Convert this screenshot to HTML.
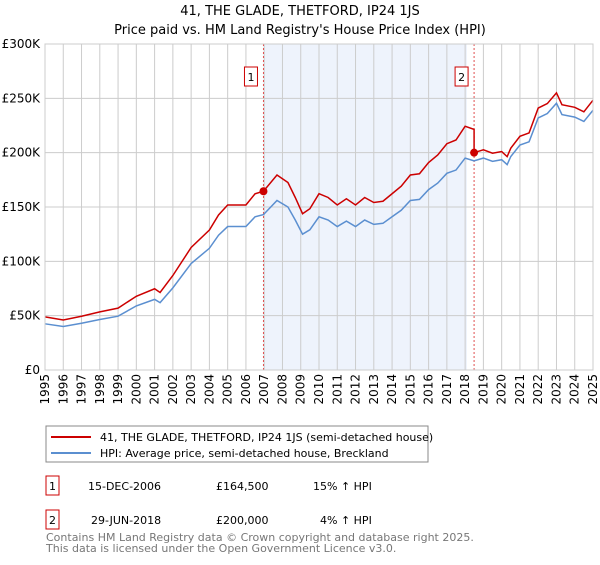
<!DOCTYPE html>
<html><head><meta charset="utf-8"><style>
body{margin:0;background:#fff;font-family:"Liberation Sans","DejaVu Sans",sans-serif;}
svg text{font-family:"DejaVu Sans","Liberation Sans",sans-serif;}
</style></head><body>
<svg width="600" height="560" viewBox="0 0 600 560">
<text x="300" y="15" text-anchor="middle" font-size="13">41, THE GLADE, THETFORD, IP24 1JS</text>
<text x="300" y="34" text-anchor="middle" font-size="13">Price paid vs. HM Land Registry's House Price Index (HPI)</text>
<g id="plot"></g>
<g>
<rect x="46" y="426" width="382" height="36" fill="#fff" stroke="#888"/>
<line x1="51" y1="437" x2="91" y2="437" stroke="#cc0000" stroke-width="2"/>
<text x="100" y="441" font-size="11">41, THE GLADE, THETFORD, IP24 1JS (semi-detached house)</text>
<line x1="51" y1="453" x2="91" y2="453" stroke="#5b8fd0" stroke-width="2"/>
<text x="100" y="457" font-size="11">HPI: Average price, semi-detached house, Breckland</text>
</g>
<g font-size="11">
<rect x="46" y="476" width="13" height="19" fill="#fff" stroke="#cc0000"/>
<text x="52.5" y="490" text-anchor="middle">1</text>
<text x="88" y="490">15-DEC-2006</text><text x="216" y="490">£164,500</text><text x="313" y="490">15% ↑ HPI</text>
<rect x="46" y="510" width="13" height="19" fill="#fff" stroke="#cc0000"/>
<text x="52.5" y="524" text-anchor="middle">2</text>
<text x="91" y="524">29-JUN-2018</text><text x="216" y="524">£200,000</text><text x="320" y="524">4% ↑ HPI</text>
</g>
<text x="46" y="541" font-size="11" fill="#777">Contains HM Land Registry data © Crown copyright and database right 2025.</text>
<text x="46" y="552" font-size="11" fill="#777">This data is licensed under the Open Government Licence v3.0.</text>
</svg>
<script>
const years=[1995,1996,1997,1998,1999,2000,2001,2001.3,2002,2003,2004,2004.5,2005,2006,2006.5,2006.96,2007.7,2008.3,2008.7,2009.1,2009.5,2010,2010.5,2011,2011.5,2012,2012.5,2013,2013.5,2014,2014.5,2015,2015.5,2016,2016.5,2017,2017.5,2018,2018.49,2019,2019.5,2020,2020.3,2020.5,2021,2021.5,2022,2022.5,2023,2023.3,2024,2024.5,2025];
const hpi=[42.5,40,43,46.5,49.5,59,65,62,75.6,98,112,124,132,132,141,143,156,150,138,125,129,141,138,132,137,132,138,134,135,141,147,156,157,166,172,181,184,195,192.5,195,192,193.5,189,196.5,207,210,232,236,245.5,235,232.7,228.7,239];
const saleYears=[2006.96,2018.49];
const salePrices=[164.5,200];
const yTicks=[0,50,100,150,200,250,300];
const yTickLabels=["£0","£50K","£100K","£150K","£200K","£250K","£300K"];
const xTicks=[1995,1996,1997,1998,1999,2000,2001,2002,2003,2004,2005,2006,2007,2008,2009,2010,2011,2012,2013,2014,2015,2016,2017,2018,2019,2020,2021,2022,2023,2024,2025];
const X0=45,X1=593,Y0=370,Y1=44;
const sx=v=>X0+(v-1995)/30*(X1-X0);
const sy=v=>Y0-v/300*(Y0-Y1);
const NS="http://www.w3.org/2000/svg",g=document.getElementById('plot');
function mk(t,a){const e=document.createElementNS(NS,t);for(const k in a)e.setAttribute(k,a[k]);g.appendChild(e);return e;}
function hpiAt(t){for(let i=1;i<years.length;i++){if(t<=years[i]){const f=(t-years[i-1])/(years[i]-years[i-1]);return hpi[i-1]+f*(hpi[i]-hpi[i-1]);}}return hpi[hpi.length-1];}
let e=mk('rect',{x:sx(saleYears[0]),y:Y1,width:sx(2018.1)-sx(saleYears[0]),height:Y0-Y1,fill:'#eef3fc'});


xTicks.forEach((t,i)=>{let l=mk('line',{x1:sx(t),x2:sx(t),y1:Y1,y2:Y0,stroke:'#ccc'});


const tx0=sx(t)+4,ty0=Y0+4;
let tx=mk('text',{x:tx0,y:ty0,'text-anchor':'end','font-size':12,transform:'rotate(-90 '+tx0+' '+ty0+')'});tx.textContent=t;

});
yTicks.forEach((t,i)=>{let l=mk('line',{x1:X0,x2:X1,y1:sy(t),y2:sy(t),stroke:'#ccc'});


let tx=mk('text',{x:X0-5,y:sy(t)+4,'text-anchor':'end','font-size':12});tx.textContent=yTickLabels[i];

});
saleYears.forEach((s,i)=>{let l=mk('line',{x1:sx(s),x2:sx(s),y1:Y1,y2:Y0,stroke:'#e05050','stroke-dasharray':'2,2'});


let r=mk('rect',{x:sx(s)-19,y:67,width:13,height:19,fill:'#fff',stroke:'#cc0000'});


let tx=mk('text',{x:sx(s)-12.5,y:81,'text-anchor':'middle','font-size':11});tx.textContent=i+1;

});
let p=mk('polyline',{points:years.map((y,i)=>sx(y)+','+sy(hpi[i])).join(' '),fill:'none',stroke:'#5b8fd0','stroke-width':1.5});


const h0=hpiAt(saleYears[0]),h1=hpiAt(saleYears[1]);
const pts=[];
years.forEach((y,i)=>{let v;
 if(y<saleYears[1]) v=hpi[i]*salePrices[0]/h0; else v=hpi[i]*salePrices[1]/h1;
 if(y===saleYears[1]) pts.push(sx(y)+','+sy(hpi[i]*salePrices[0]/h0));
 pts.push(sx(y)+','+sy(v));});
let r=mk('polyline',{points:pts.join(' '),fill:'none',stroke:'#cc0000','stroke-width':1.5});


saleYears.forEach((s,i)=>{let c=mk('circle',{cx:sx(s),cy:sy(salePrices[i]),r:4,fill:'#cc0000'});

});
let ax=mk('rect',{x:X0,y:Y1,width:X1-X0,height:Y0-Y1,fill:'none',stroke:'#ccc'});


</script>
</body></html>
